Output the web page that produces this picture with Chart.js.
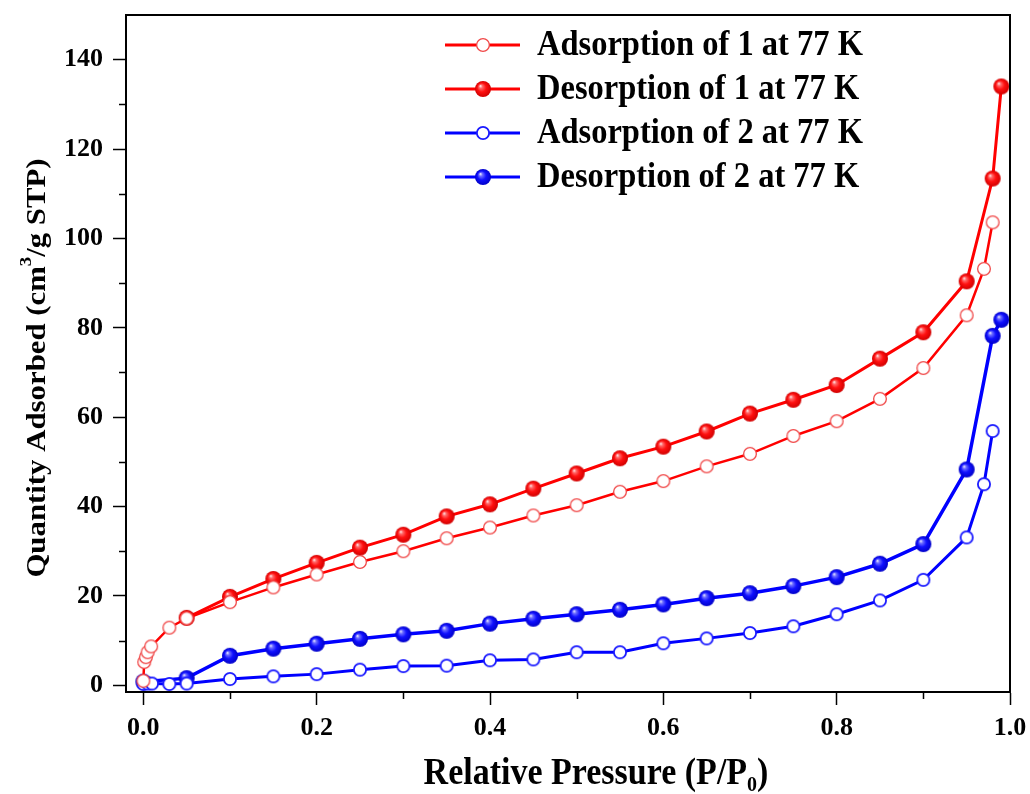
<!DOCTYPE html>
<html>
<head>
<meta charset="utf-8">
<script src="https://cdn.jsdelivr.net/npm/chart.js@4.4.1/dist/chart.umd.min.js"></script>
<style>
  html, body { margin:0; padding:0; background:#fff; }
  #wrap { width:1030px; height:794px; }
</style>
</head>
<body>
<div id="wrap"><canvas id="myChart" width="1030" height="794"></canvas></div>
<script>
// 데이터 (P/P0, 흡착량)
var ads1P = [0.0, 0.001, 0.003, 0.005, 0.009, 0.03, 0.05, 0.1, 0.15, 0.2, 0.25, 0.3, 0.35, 0.4, 0.45, 0.5, 0.55, 0.6, 0.65, 0.7, 0.75, 0.8, 0.85, 0.9, 0.95, 0.97, 0.98];
var ads1Q = [1.0, 5.2, 6.3, 7.4, 8.7, 12.9, 15.0, 18.6, 21.9, 24.8, 27.6, 30.0, 32.9, 35.3, 38.0, 40.3, 43.3, 45.7, 49.0, 51.8, 55.8, 59.1, 64.1, 71.0, 82.8, 93.2, 103.6];

var des1P = [0.99, 0.98, 0.95, 0.9, 0.85, 0.8, 0.75, 0.7, 0.65, 0.6, 0.55, 0.5, 0.45, 0.4, 0.35, 0.3, 0.25, 0.2, 0.15, 0.1, 0.05];
var des1Q = [134.0, 113.4, 90.4, 79.0, 73.1, 67.2, 63.9, 60.8, 56.8, 53.4, 50.8, 47.4, 44.0, 40.5, 37.8, 33.7, 30.8, 27.4, 23.8, 19.8, 15.1];

var ads2P = [0.0, 0.005, 0.01, 0.03, 0.05, 0.1, 0.15, 0.2, 0.25, 0.3, 0.35, 0.4, 0.45, 0.5, 0.55, 0.6, 0.65, 0.7, 0.75, 0.8, 0.85, 0.9, 0.95, 0.97, 0.98];
var ads2Q = [0.3, 0.4, 0.4, 0.3, 0.4, 1.4, 2.0, 2.5, 3.5, 4.3, 4.4, 5.6, 5.8, 7.4, 7.4, 9.4, 10.5, 11.7, 13.2, 15.9, 19.0, 23.6, 33.1, 45.0, 56.9];

var des2P = [0.99, 0.98, 0.95, 0.9, 0.85, 0.8, 0.75, 0.7, 0.65, 0.6, 0.55, 0.5, 0.45, 0.4, 0.35, 0.3, 0.25, 0.2, 0.15, 0.1, 0.05, 0.0];
var des2Q = [81.8, 78.2, 48.3, 31.6, 27.2, 24.2, 22.2, 20.6, 19.5, 18.1, 16.9, 15.9, 14.9, 13.8, 12.2, 11.4, 10.4, 9.3, 8.2, 6.6, 1.6, 0.8];

var seriesLabels = ['Adsorption of 1 at 77 K', 'Desorption of 1 at 77 K', 'Adsorption of 2 at 77 K', 'Desorption of 2 at 77 K'];
var xTicks = [0, 0.2, 0.4, 0.6, 0.8, 1.0];
var yTicks = [0, 20, 40, 60, 80, 100, 120, 140];

var FONT = "'Liberation Serif', 'Times New Roman', serif";

function pairs(px, qy){
  var out = [];
  for (var i = 0; i < px.length; i++) out.push({x: px[i], y: qy[i]});
  return out;
}

// 구슬 모양 마커 (채움)
function ballMarker(light, mid, dark, r){
  var c = document.createElement('canvas');
  c.width = c.height = r*2 + 2;
  var g = c.getContext('2d');
  var cx = r + 1, cy = r + 1;
  var grad = g.createRadialGradient(cx - r*0.35, cy - r*0.4, 0, cx, cy, r);
  grad.addColorStop(0, '#ffffff');
  grad.addColorStop(0.22, light);
  grad.addColorStop(0.55, mid);
  grad.addColorStop(1, dark);
  g.fillStyle = grad;
  g.beginPath(); g.arc(cx, cy, r, 0, Math.PI*2); g.fill();
  return c;
}
// 속이 빈 마커
function openMarker(stroke, lw, r){
  var c = document.createElement('canvas');
  c.width = c.height = r*2 + 2;
  var g = c.getContext('2d');
  g.fillStyle = '#fff';
  g.strokeStyle = stroke;
  g.lineWidth = lw;
  g.beginPath(); g.arc(r + 1, r + 1, r - lw/2, 0, Math.PI*2); g.fill(); g.stroke();
  return c;
}

var redBall = ballMarker('#ff6b6b', '#ff1010', '#d00000', 8);
var blueBall = ballMarker('#6f6fff', '#1010ff', '#0000c8', 8);
var redOpen = openMarker('#f04848', 1.3, 7);
var blueOpen = openMarker('#1a1aff', 1.8, 7);

var RED = '#ff0000', BLUE = '#0000ff';

var datasets = [
  {label: seriesLabels[0], data: pairs(ads1P, ads1Q), borderColor: RED, borderWidth: 2.5, pointStyle: redOpen, marker: redOpen},
  {label: seriesLabels[1], data: pairs(des1P, des1Q), borderColor: RED, borderWidth: 3, pointStyle: redBall, marker: redBall},
  {label: seriesLabels[2], data: pairs(ads2P, ads2Q), borderColor: BLUE, borderWidth: 3, pointStyle: blueOpen, marker: blueOpen},
  {label: seriesLabels[3], data: pairs(des2P, des2Q), borderColor: BLUE, borderWidth: 3.5, pointStyle: blueBall, marker: blueBall}
];
datasets.forEach(function(d){
  d.showLine = true;
  d.fill = false;
  d.tension = 0;
  d.backgroundColor = d.borderColor;
});

// 글자를 세로로 조금 늘려서 그림 (원본 그림 비율)
var STRETCH = 1.1;
function tallText(ctx, parts, x, y){
  // parts: [text, size, dy]
  ctx.save();
  ctx.translate(x, y);
  ctx.scale(1, STRETCH);
  var cx = 0;
  parts.forEach(function(p){
    ctx.font = 'bold ' + p[1] + 'px ' + FONT;
    ctx.fillText(p[0], cx, p[2] / STRETCH);
    cx += ctx.measureText(p[0]).width;
  });
  ctx.restore();
}
function partsWidth(ctx, parts){
  var w = 0;
  parts.forEach(function(p){
    ctx.font = 'bold ' + p[1] + 'px ' + FONT;
    w += ctx.measureText(p[0]).width;
  });
  return w;
}

// 테두리, 보조눈금, 축제목, 범례
var decor = {
  id: 'decor',
  afterDraw: function(chart){
    var ctx = chart.ctx, a = chart.chartArea;
    var xs = chart.scales.x, ys = chart.scales.y;
    ctx.save();
    ctx.strokeStyle = '#000';
    ctx.lineWidth = 2;
    ctx.beginPath();
    ctx.moveTo(a.left - 1, a.top); ctx.lineTo(a.right, a.top); ctx.lineTo(a.right, a.bottom);
    ctx.stroke();

    // 보조 눈금
    ctx.lineWidth = 1.5;
    ctx.beginPath();
    for (var v = 10; v <= 130; v += 20){
      var py = Math.round(ys.getPixelForValue(v)) + 0.5;
      ctx.moveTo(a.left, py); ctx.lineTo(a.left - 7, py);
    }
    for (var u = 0.1; u < 1; u += 0.2){
      var px = Math.round(xs.getPixelForValue(u)) + 0.5;
      ctx.moveTo(px, a.bottom); ctx.lineTo(px, a.bottom + 7);
    }
    ctx.stroke();

    ctx.fillStyle = '#000';
    ctx.textBaseline = 'alphabetic';

    // x 축 제목
    var xt = [['Relative Pressure (P/P', 34, 0], ['0', 20, 7], [')', 34, 0]];
    tallText(ctx, xt, 596 - partsWidth(ctx, xt)/2, 784);

    // y 축 제목 (세로)
    var yt = [['Quantity Adsorbed (cm', 28, 0], ['3', 17, -14], ['/g STP)', 28, 0]];
    var yw = partsWidth(ctx, yt) * STRETCH;
    ctx.save();
    ctx.translate(45, 368);
    ctx.rotate(-Math.PI/2);
    ctx.scale(STRETCH, 1);
    var cx = -yw/STRETCH/2;
    yt.forEach(function(p){
      ctx.font = 'bold ' + p[1] + 'px ' + FONT;
      ctx.fillText(p[0], cx, p[2]);
      cx += ctx.measureText(p[0]).width;
    });
    ctx.restore();

    // 범례
    ctx.textBaseline = 'middle';
    chart.data.datasets.forEach(function(d, i){
      var ry = 45 + i*44;
      ctx.strokeStyle = d.borderColor;
      ctx.lineWidth = 3;
      ctx.beginPath(); ctx.moveTo(445, ry); ctx.lineTo(520, ry); ctx.stroke();
      var m = d.marker;
      ctx.drawImage(m, 483 - m.width/2, ry - m.height/2);
      ctx.fillStyle = '#000';
      tallText(ctx, [[d.label, 32.5, 0]], 537, ry + 1);
    });
    ctx.restore();
  }
};

new Chart(document.getElementById('myChart'), {
  type: 'scatter',
  data: { datasets: datasets },
  plugins: [decor],
  options: {
    responsive: false,
    animation: false,
    devicePixelRatio: 1,
    layout: { padding: { left: 0, right: 20, top: 15, bottom: 0 } },
    plugins: { legend: { display: false }, tooltip: { enabled: false } },
    elements: { point: { radius: 8, hoverRadius: 8 } },
    scales: {
      x: {
        type: 'linear', min: -0.02, max: 1.0,
        afterFit: function(s){ s.height = 102; s.paddingLeft = 0; s.paddingRight = 0; },
        afterBuildTicks: function(s){ s.ticks = xTicks.map(function(v){ return {value: v}; }); },
        ticks: { color: '#000', padding: 8, maxRotation: 0,
          font: { family: FONT, size: 26, weight: 'bold' },
          callback: function(v){ return Number(v).toFixed(1); } },
        grid: { drawOnChartArea: false, color: '#000', tickLength: 13, tickWidth: 1.5 },
        border: { display: true, color: '#000', width: 2 }
      },
      y: {
        type: 'linear', min: -1.5, max: 150,
        afterFit: function(s){ s.width = 126; s.paddingTop = 0; s.paddingBottom = 0; },
        afterBuildTicks: function(s){ s.ticks = yTicks.map(function(v){ return {value: v}; }); },
        ticks: { color: '#000', padding: 10,
          font: { family: FONT, size: 26, weight: 'bold' } },
        grid: { drawOnChartArea: false, color: '#000', tickLength: 13, tickWidth: 1.5 },
        border: { display: true, color: '#000', width: 2 }
      }
    }
  }
});
</script>
</body>
</html>
